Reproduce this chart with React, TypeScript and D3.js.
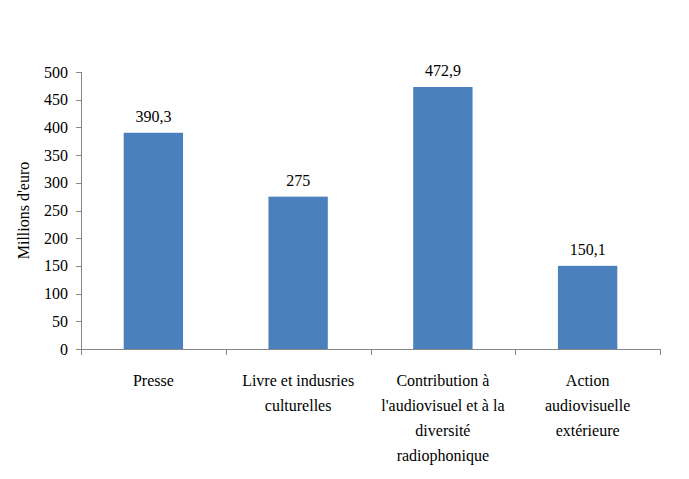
import React from "react";
import * as d3 from "d3";

const categories = [
  ["Presse"],
  ["Livre et indusries", "culturelles"],
  ["Contribution à", "l'audiovisuel et à la", "diversité", "radiophonique"],
  ["Action", "audiovisuelle", "extérieure"],
];
const values = [390.3, 275, 472.9, 150.1];
const valueLabels = ["390,3", "275", "472,9", "150,1"];
const yTicks = [0, 50, 100, 150, 200, 250, 300, 350, 400, 450, 500];

const W = 689;
const H = 479;
const left = 81;
const right = 660;
const top = 72;
const bottom = 349;

export default function App() {
  const x = d3
    .scaleBand<number>()
    .domain(d3.range(values.length))
    .range([left, right])
    .paddingInner(0.59)
    .paddingOuter(0.295);
  const y = d3.scaleLinear().domain([0, 500]).range([bottom, top]);
  const step = (right - left) / values.length;
  const axisColor = "#868686";

  return (
    <svg width={W} height={H} style={{ position: "absolute", left: 0, top: 0, background: "#fff" }}>
      <line x1={left + 0.5} x2={left + 0.5} y1={top} y2={bottom} stroke={axisColor} />
      {yTicks.map((t) => (
        <line
          key={"t" + t}
          x1={left - 5}
          x2={left}
          y1={Math.round(y(t)) + 0.5}
          y2={Math.round(y(t)) + 0.5}
          stroke={axisColor}
        />
      ))}
      {yTicks.map((t) => (
        <text
          key={"l" + t}
          x={left - 13}
          y={y(t) + 5.5}
          textAnchor="end"
          fontSize={16}
          fontFamily="Liberation Serif"
          fill="#000"
        >
          {t}
        </text>
      ))}
      <line x1={left} x2={right} y1={bottom + 0.5} y2={bottom + 0.5} stroke={axisColor} />
      {d3.range(values.length + 1).map((i) => (
        <line
          key={"x" + i}
          x1={Math.round(left + i * step) + 0.5}
          x2={Math.round(left + i * step) + 0.5}
          y1={bottom}
          y2={bottom + 6}
          stroke={axisColor}
        />
      ))}
      {values.map((v, i) => (
        <rect
          key={"b" + i}
          x={x(i)}
          y={y(v)}
          width={x.bandwidth()}
          height={bottom - y(v)}
          fill="#4a81bd"
        />
      ))}
      {values.map((v, i) => (
        <text
          key={"v" + i}
          x={(x(i) as number) + x.bandwidth() / 2}
          y={y(v) - 11}
          textAnchor="middle"
          fontSize={16}
          fontFamily="Liberation Serif"
          fill="#000"
        >
          {valueLabels[i]}
        </text>
      ))}
      {categories.map((lines, i) =>
        lines.map((l, j) => (
          <text
            key={"c" + i + "-" + j}
            x={left + (i + 0.5) * step}
            y={386 + j * 25}
            textAnchor="middle"
            fontSize={16}
            fontFamily="Liberation Serif"
            fill="#000"
          >
            {l}
          </text>
        ))
      )}
      <text
        transform={`translate(29, ${(top + bottom) / 2}) rotate(-90)`}
        textAnchor="middle"
        fontSize={16}
        fontFamily="Liberation Serif"
        fill="#000"
      >
        Millions d'euro
      </text>
    </svg>
  );
}
